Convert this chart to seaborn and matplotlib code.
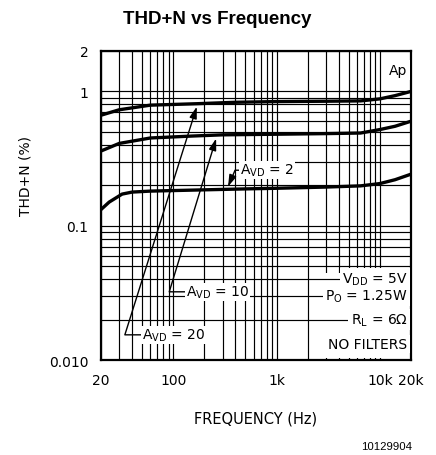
import matplotlib
matplotlib.use("Agg")
import matplotlib.pyplot as plt
import matplotlib.ticker as mticker
from matplotlib.patches import Rectangle
import seaborn as sns
import pandas as pd

# curve data
freq_20 = [20, 30, 60, 170, 400, 1000, 3000, 6500, 10000, 14000, 20000]
thd_20 = [0.665, 0.73, 0.79, 0.81, 0.83, 0.84, 0.845, 0.85, 0.88, 0.93, 1.0]
freq_10 = [20, 30, 60, 150, 300, 1000, 3000, 6500, 10000, 14000, 20000]
thd_10 = [0.36, 0.41, 0.45, 0.465, 0.475, 0.48, 0.485, 0.49, 0.52, 0.55, 0.60]
freq_2 = [20, 24, 32, 40, 60, 200, 500, 1000, 3000, 6500, 10000, 14000, 20000]
thd_2 = [0.132, 0.15, 0.172, 0.178, 0.181, 0.185, 0.188, 0.19, 0.194, 0.198, 0.206, 0.22, 0.242]

xticks = [20, 100, 1000, 10000, 20000]
xlabels = ["20", "100", "1k", "10k", "20k"]
yticks = [0.01, 0.1, 1, 2]
ylabels = ["0.010", "0.1", "1", "2"]

df = pd.concat([
    pd.DataFrame({"freq": freq_20, "thd": thd_20, "gain": "20"}),
    pd.DataFrame({"freq": freq_10, "thd": thd_10, "gain": "10"}),
    pd.DataFrame({"freq": freq_2, "thd": thd_2, "gain": "2"}),
])

sns.set_style("white")
plt.rcParams["font.family"] = ["DejaVu Sans"]
plt.rcParams["text.color"] = "black"
plt.rcParams["axes.labelcolor"] = "black"
plt.rcParams["xtick.color"] = "black"
plt.rcParams["ytick.color"] = "black"

fig = plt.figure(figsize=(4.36, 4.56), dpi=100)
ax = fig.add_axes([0.2317, 0.2083, 0.7110, 0.6777])

ax.set_xscale("log")
ax.set_yscale("log")
ax.set_xlim(20, 20000)
ax.set_ylim(0.01, 2)

# grid: vertical lines under the white legend block, horizontal ones above it
ax.set_axisbelow(True)
ax.xaxis.set_minor_locator(mticker.LogLocator(base=10, subs=range(2, 10), numticks=20))
ax.yaxis.set_minor_locator(mticker.LogLocator(base=10, subs=range(2, 10), numticks=20))
ax.grid(True, which="both", color="black", linewidth=0.85)
ax.yaxis.set_zorder(1.5)
ax.add_patch(Rectangle((2900, 0.0104), 16800, 0.034, facecolor="white",
                       edgecolor="none", zorder=1))

sns.lineplot(data=df, x="freq", y="thd", hue="gain", palette=["black"] * 3,
             linewidth=2.4, legend=False, ax=ax, zorder=3)
for ln in ax.lines:
    ln.set_solid_capstyle("round")
    ln.set_solid_joinstyle("round")

ax.set_xticks(xticks)
ax.set_xticklabels(xlabels)
ax.set_yticks(yticks)
ax.set_yticklabels(ylabels)
ax.xaxis.set_minor_formatter(mticker.NullFormatter())
ax.yaxis.set_minor_formatter(mticker.NullFormatter())
ax.tick_params(which="both", length=0, labelsize=10, pad=9)
for s in ax.spines.values():
    s.set_linewidth(1.6)
    s.set_color("black")
    s.set_zorder(4)

ax.set_xlabel("FREQUENCY (Hz)", fontsize=10.5, labelpad=17)
ax.set_ylabel("THD+N (%)", fontsize=10)
ax.yaxis.set_label_coords(-0.22, 0.6)

# gain annotations
arrow = dict(arrowstyle="-|>,head_length=0.7,head_width=0.22", color="black",
             linewidth=1.0, shrinkA=0, shrinkB=0, relpos=(0, 0.5))
txt = dict(fontsize=10, va="center", ha="left",
           bbox=dict(facecolor="white", edgecolor="none", pad=0.5))
ax.annotate(r"A$_{\mathregular{VD}}$ = 20", xy=(169, 0.77), xytext=(50, 0.0154),
            arrowprops=dict(connectionstyle="angle,angleA=180,angleB=72.5,rad=0", **arrow),
            zorder=5, **txt)
ax.annotate(r"A$_{\mathregular{VD}}$ = 10", xy=(260, 0.446), xytext=(133, 0.0322),
            arrowprops=dict(connectionstyle="angle,angleA=180,angleB=73,rad=0", **arrow),
            zorder=5, **txt)
ax.annotate(r"A$_{\mathregular{VD}}$ = 2", xy=(339, 0.1955), xytext=(443, 0.259),
            arrowprops=dict(connectionstyle="angle,angleA=180,angleB=66.8,rad=0", **arrow),
            zorder=5, **txt)

# conditions block
cond = [(r"V$_{\mathregular{DD}}$ = 5V", 0.0405),
        (r"P$_{\mathregular{O}}$ = 1.25W", 0.0300),
        (r"R$_{\mathregular{L}}$ = 6$\Omega$", 0.0200),
        ("NO FILTERS", 0.0131)]
for label, yv in cond:
    ax.text(18500, yv, label, fontsize=10, ha="right", va="center", zorder=5,
            bbox=dict(facecolor="white", edgecolor="none", pad=1.5))
ax.text(18500, 1.45, "Ap", fontsize=10, ha="right", va="center", zorder=5,
        bbox=dict(facecolor="white", edgecolor="none", pad=2))

fig.text(0.497, 0.958, "THD+N vs Frequency", fontsize=13.5, fontweight="bold",
         family="Liberation Sans", ha="center", va="center")
fig.text(0.945, 0.02, "10129904", fontsize=8.2, family="Liberation Sans",
         ha="right", va="center")

fig.savefig("out.png", dpi=100)
